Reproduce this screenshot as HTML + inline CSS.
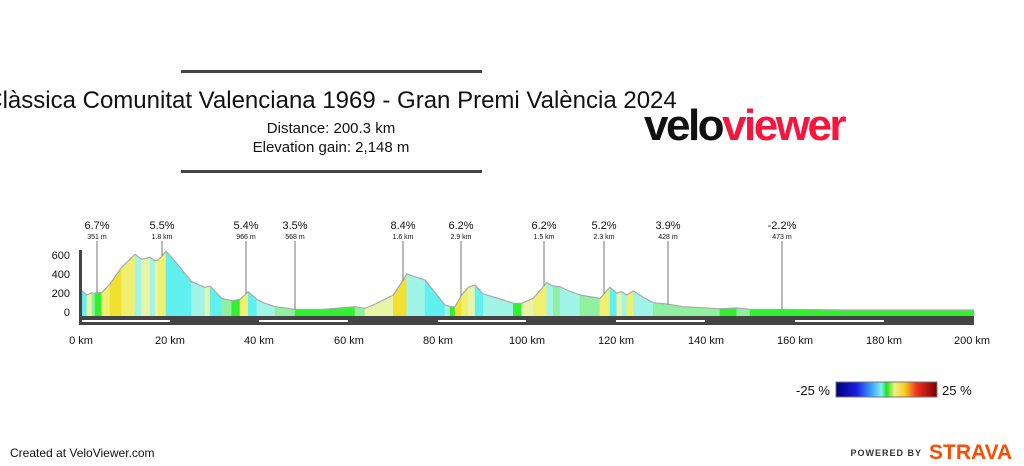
<!DOCTYPE html>
<html><head><meta charset="utf-8"><style>
body{margin:0;width:1024px;height:466px;background:#fff;overflow:hidden;font-family:"Liberation Sans",Arial,sans-serif;position:relative}
</style></head><body>
<svg width="1024" height="466" style="position:absolute;left:0;top:0" font-family="Liberation Sans, Arial, sans-serif">
<defs><linearGradient id="cb" x1="0" x2="1">
<stop offset="0" stop-color="#00007a"/><stop offset="0.2" stop-color="#1c1ce0"/><stop offset="0.35" stop-color="#3aa0ff"/><stop offset="0.45" stop-color="#80f0f0"/><stop offset="0.5" stop-color="#20e020"/><stop offset="0.58" stop-color="#f0f080"/><stop offset="0.68" stop-color="#f5d020"/><stop offset="0.8" stop-color="#f03020"/><stop offset="1" stop-color="#7a0000"/></linearGradient></defs>
<rect x="181" y="70" width="301" height="3" fill="#444"/>
<rect x="181" y="170" width="301" height="3" fill="#444"/>
<text x="331" y="108" font-size="24" text-anchor="middle" fill="#111">Clàssica Comunitat Valenciana 1969 - Gran Premi València 2024</text>
<text x="331" y="133" font-size="15" text-anchor="middle" fill="#111">Distance: 200.3 km</text>
<text x="331" y="152" font-size="15" text-anchor="middle" fill="#111">Elevation gain: 2,148 m</text>
<text x="644" y="140" font-size="44" font-weight="bold" letter-spacing="-2.5" fill="#111">velo<tspan fill="#f5163e">viewer</tspan></text>
<g id="prof"></g>
<g id="marks" stroke="#777" stroke-width="1"></g>
<rect x="79" y="250" width="3" height="68" fill="#444"/>
<rect x="79" y="316" width="895" height="9" fill="#444"/>
<g fill="#fff"><rect x="82" y="320" width="88" height="2"/><rect x="259" y="320" width="89" height="2"/><rect x="438" y="320" width="88" height="2"/><rect x="616" y="320" width="89" height="2"/><rect x="795" y="320" width="89" height="2"/></g>
<g font-size="11" fill="#111" text-anchor="end"><text x="70" y="259">600</text><text x="70" y="278">400</text><text x="70" y="297">200</text><text x="70" y="316">0</text></g>
<g font-size="11" fill="#111" text-anchor="middle"><text x="81" y="344">0 km</text><text x="170" y="344">20 km</text><text x="259" y="344">40 km</text><text x="349" y="344">60 km</text><text x="438" y="344">80 km</text><text x="527" y="344">100 km</text><text x="616" y="344">120 km</text><text x="706" y="344">140 km</text><text x="795" y="344">160 km</text><text x="884" y="344">180 km</text><text x="972" y="344">200 km</text></g>
<g id="lab" text-anchor="middle" fill="#111"></g>
<text x="830" y="395" font-size="13" text-anchor="end" fill="#111">-25 %</text>
<rect x="836" y="382" width="101" height="15" fill="url(#cb)" stroke="#777"/>
<text x="942" y="395" font-size="13" fill="#111">25 %</text>
<text x="10" y="457" font-size="12" fill="#111">Created at VeloViewer.com</text>
<text x="922" y="456" font-size="9" font-weight="bold" fill="#333" letter-spacing="1" text-anchor="end">POWERED BY</text>
<text x="929" y="459" font-size="21" font-weight="bold" fill="#fc4c02">STRAVA</text>
</svg>
<script>
var P=[[80.7,290],[86.7,295],[91.7,292.7],[95,293.3],[98.3,292.7],[101.7,292.7],[110,284],[121.7,267.3],[135,254.3],[141.7,259.3],[150,257.3],[155,260.7],[158.3,260],[166,251.3],[173.3,259.3],[191.7,281.7],[205,287.3],[210,286],[221.7,298.3],[231.7,300.7],[240,299.3],[248.3,291.7],[256.7,299.3],[263.3,302.7],[275,306.7],[295,309.3],[323.3,309.3],[355,306.7],[365,308.3],[373.3,305],[393.3,295],[403.3,280],[406.7,274],[425,280],[445,305],[450,306.7],[455,306.7],[461.7,295],[468.3,287.3],[475,285],[483.3,294],[503.3,300],[513.3,303.3],[521.7,303.3],[533.3,298.3],[546.7,282.7],[553.3,286],[560,286.7],[566.7,290],[580,295],[600,298.3],[610,287.3],[616.7,293.3],[621.7,291.7],[626.7,295],[633.3,291],[643.3,297.3],[653.3,302.7],[666.7,304],[683.3,306.7],[720,308.7],[736.7,308],[750,309.3],[783.3,309.3],[846.7,310],[974,310]];
var s='';
for(var i=0;i<P.length-1;i++){var a=P[i],b=P[i+1];var g=(a[1]-b[1])/(b[0]-a[0]);var c;
if(g>1.2)c='#f2e030';else if(g>0.6)c='#f0f070';else if(g>0.2)c='#e8f5a8';else if(g>-0.05)c='#30f030';else if(g>-0.3)c='#90f0a0';else if(g>-0.8)c='#a0f5e8';else c='#60f0f0';
s+='<polygon points="'+a[0]+','+a[1]+' '+b[0]+','+b[1]+' '+b[0]+',316 '+a[0]+',316" fill="'+c+'" stroke="'+c+'" stroke-width="0.5"/>';}
var pl=P.map(function(p){return p.join(',')}).join(' ');
s+='<polyline points="'+pl+'" fill="none" stroke="#aaa" stroke-width="1.2"/>';
document.getElementById('prof').innerHTML=s;
var M=[[97,'6.7%','351 m'],[162,'5.5%','1.8 km'],[246,'5.4%','966 m'],[295,'3.5%','568 m'],[403,'8.4%','1.6 km'],[461,'6.2%','2.9 km'],[544,'6.2%','1.5 km'],[604,'5.2%','2.3 km'],[668,'3.9%','428 m'],[782,'-2.2%','473 m']];
var m='',l='';
function yAt(x){for(var i=0;i<P.length-1;i++){if(x>=P[i][0]&&x<=P[i+1][0]){var t=(x-P[i][0])/(P[i+1][0]-P[i][0]);return P[i][1]+t*(P[i+1][1]-P[i][1]);}}return 310;}
M.forEach(function(k){m+='<line x1="'+k[0]+'" y1="241" x2="'+k[0]+'" y2="'+yAt(k[0])+'"/>';l+='<text x="'+k[0]+'" y="229" font-size="11">'+k[1]+'</text><text x="'+k[0]+'" y="239" font-size="7">'+k[2]+'</text>';});
document.getElementById('marks').innerHTML=m;document.getElementById('lab').innerHTML=l;
</script>
</body></html>
